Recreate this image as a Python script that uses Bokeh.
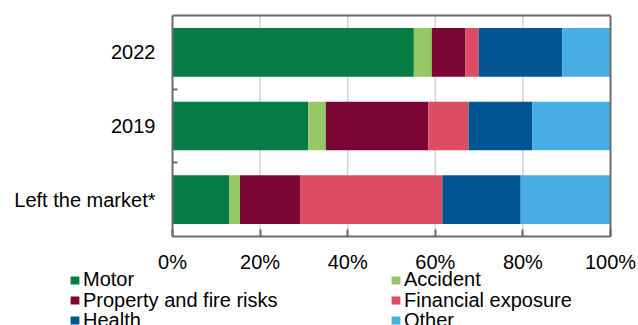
from bokeh.plotting import figure
from bokeh.models import (ColumnDataSource, FixedTicker, Legend, LegendItem, Range1d,
                          LinearAxis)
from bokeh.embed import file_html
from bokeh.resources import INLINE

# ---- data ----
categories = ["Left the market*", "2019", "2022"]
series_names = ["Motor", "Accident", "Property and fire risks",
                "Financial exposure", "Health", "Other"]
motor = [13.0, 31.0, 55.1]
accident = [2.4, 4.0, 4.1]
property_fire = [13.7, 23.4, 7.7]
financial = [32.5, 9.2, 3.0]
health = [17.9, 14.5, 19.1]
other = [20.5, 17.9, 11.0]
colors = ["#067c45", "#95c865", "#7b0533", "#dc4d65", "#015590", "#48afe5"]
x_ticks = [0, 20, 40, 60, 80, 100]
x_tick_labels = ["0%", "20%", "40%", "60%", "80%", "100%"]

keys = ["motor", "accident", "property_fire", "financial", "health", "other"]
n_cat = len(categories)
ypos = [i + 0.5 for i in range(n_cat)]
source = ColumnDataSource(dict(y=ypos, motor=motor, accident=accident,
                               property_fire=property_fire, financial=financial,
                               health=health, other=other))

# ---- layout constants (pixels) ----
W, H = 638, 325
FRAME_L, FRAME_R, FRAME_T, FRAME_B = 172, 610, 15, 236
X0, X1 = x_ticks[0], x_ticks[-1]
kx = (FRAME_R - FRAME_L) / (X1 - X0)
ky = (FRAME_B - FRAME_T) / n_cat
x_range = Range1d(X0 - FRAME_L / kx, X1 + (W - FRAME_R) / kx)
y_range = Range1d(0 - (H - FRAME_B) / ky, n_cat + FRAME_T / ky)

FONT = "Liberation Sans"
FS = "20px"
EDGE = "#6b6b6b"

p = figure(width=W, height=H, output_backend="svg", toolbar_location=None,
           x_range=x_range, y_range=y_range, min_border=0,
           x_axis_location=None, y_axis_location=None)
p.background_fill_color = "white"
p.border_fill_color = "white"
p.outline_line_color = None
p.grid.grid_line_color = None

# vertical gridlines inside the plotting box
grid_x = x_ticks[1:-1]
p.segment(x0=grid_x, x1=grid_x, y0=[0] * len(grid_x), y1=[n_cat] * len(grid_x),
          line_color="#d2d2d2", line_width=1.5, level="underlay")

renderers = p.hbar_stack(keys, y="y", height=0.66, color=colors, source=source,
                         line_color=None)

# x axis (bottom edge of the box)
xaxis = LinearAxis(fixed_location=0, bounds=(X0, X1),
                   ticker=FixedTicker(ticks=x_ticks),
                   major_label_overrides={t: l for t, l in zip(x_ticks, x_tick_labels)},
                   axis_line_color=EDGE, axis_line_width=2,
                   major_tick_in=7, major_tick_out=0,
                   major_tick_line_color=EDGE, major_tick_line_width=2,
                   minor_tick_line_color=None, major_label_standoff=14,
                   major_label_text_font=FONT, major_label_text_font_size=FS,
                   major_label_text_color="black")
p.add_layout(xaxis, "below")

# y axis (left edge): labels at category centres, ticks at boundaries
yaxis = LinearAxis(fixed_location=X0, bounds=(0, n_cat),
                   ticker=FixedTicker(ticks=ypos, minor_ticks=list(range(1, n_cat))),
                   major_label_overrides={y: c for y, c in zip(ypos, categories)},
                   axis_line_color=EDGE, axis_line_width=2,
                   major_tick_line_color=None, major_tick_in=0, major_tick_out=0,
                   minor_tick_in=5, minor_tick_out=0,
                   minor_tick_line_color=EDGE, minor_tick_line_width=2,
                   major_label_standoff=17,
                   major_label_text_font=FONT, major_label_text_font_size=FS,
                   major_label_text_color="black")
p.add_layout(yaxis, "left")

# top and right edges of the box
p.add_layout(LinearAxis(fixed_location=n_cat, bounds=(X0, X1),
                        ticker=FixedTicker(ticks=[]), axis_line_color=EDGE,
                        axis_line_width=2, major_tick_line_color=None,
                        minor_tick_line_color=None), "above")
p.add_layout(LinearAxis(fixed_location=X1, bounds=(0, n_cat),
                        ticker=FixedTicker(ticks=[]), axis_line_color=EDGE,
                        axis_line_width=2, major_tick_line_color=None,
                        minor_tick_line_color=None), "right")

# ---- legend: two columns, three rows ----
col_x = [69, 390]
row_center = [279.7, 300.0, 320.3]
ITEM_H = 24
for i, (name, r) in enumerate(zip(series_names, renderers)):
    bottom = row_center[i // 2] + ITEM_H / 2
    lg = Legend(items=[LegendItem(label=name, renderers=[r])],
                location=(col_x[i % 2], H - bottom))
    lg.padding = 0
    lg.margin = 0
    lg.spacing = 0
    lg.border_line_color = None
    lg.background_fill_alpha = 0
    lg.glyph_width = 11
    lg.glyph_height = 10
    lg.label_height = ITEM_H
    lg.label_standoff = 3
    lg.label_text_font = FONT
    lg.label_text_font_size = FS
    lg.label_text_color = "black"
    p.add_layout(lg, "center")

open("out.html", "w").write(file_html(p, INLINE))
